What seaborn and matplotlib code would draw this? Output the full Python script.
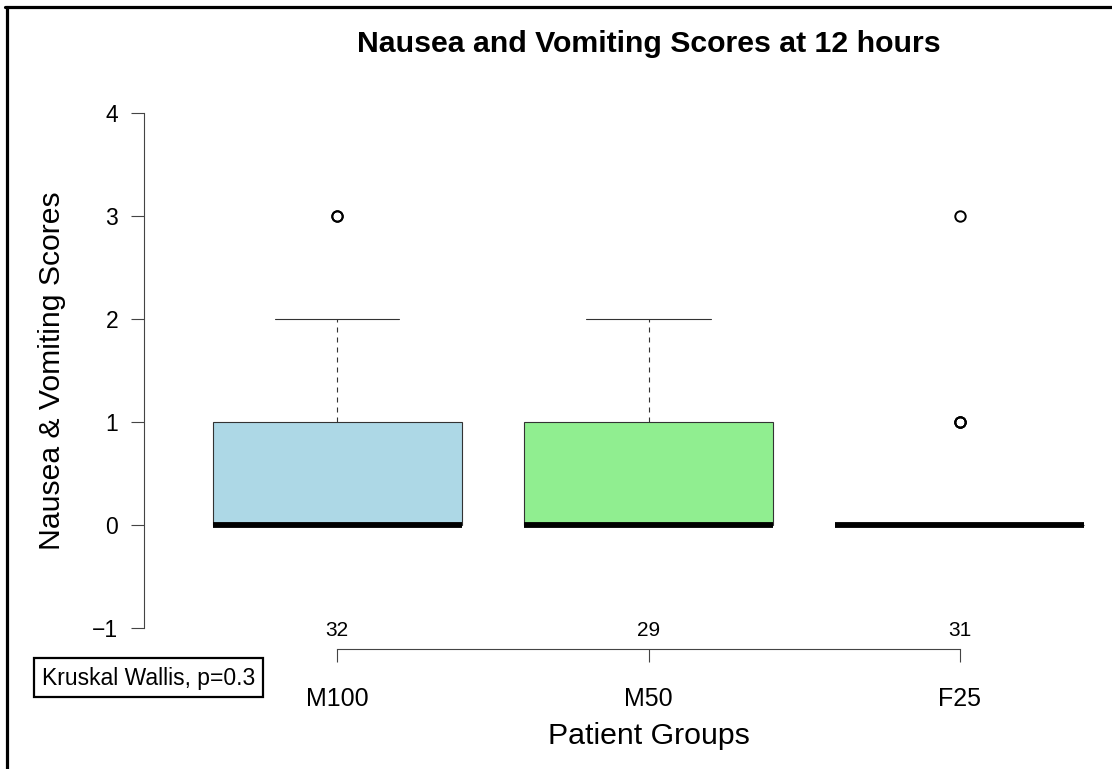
import numpy as np
import pandas as pd
import matplotlib
matplotlib.use("Agg")
import matplotlib.pyplot as plt
from matplotlib.lines import Line2D
from matplotlib.patches import Rectangle
import seaborn as sns

# Scores 0-3 and how many patients in each group reported each score
scores = [0, 1, 2, 3]
groups = ["M100", "M50", "F25"]
m100_counts = [17, 9, 4, 2]
m50_counts = [15, 10, 4, 0]
f25_counts = [27, 3, 0, 1]
box_colors = ["lightblue", "lightgreen", "pink"]
y_ticks = [-1, 0, 1, 2, 3, 4]
test_label = "Kruskal Wallis, p=0.3"

group_counts = {"M100": m100_counts, "M50": m50_counts, "F25": f25_counts}
df = pd.DataFrame({
    "group": np.concatenate([[g] * sum(c) for g, c in group_counts.items()]),
    "score": np.concatenate([np.repeat(scores, c) for c in group_counts.values()]),
})

sns.set_style("white")
plt.rcParams["font.family"] = ["Liberation Sans", "DejaVu Sans"]
plt.rcParams["text.color"] = "black"
plt.rcParams["xtick.labelcolor"] = "black"
plt.rcParams["ytick.labelcolor"] = "black"

W, H = 1112, 769
fig = plt.figure(figsize=(W / 100, H / 100), dpi=100)
left, right, top, bottom = 144, 1153, 92.4, 648.6
ax = fig.add_axes([left / W, 1 - bottom / H, (right - left) / W, (bottom - top) / H])

edge = "#333333"
sns.boxplot(
    data=df, x="group", y="score", hue="group", order=groups, hue_order=groups,
    palette=box_colors, saturation=1, width=0.8, legend=False, linecolor=edge,
    linewidth=0.8, whis=1.5, fliersize=7.5, ax=ax,
    medianprops={"color": "black", "linewidth": 4.2, "solid_capstyle": "butt"},
    whiskerprops={"linestyle": (0, (4.5, 4.5))},
    flierprops={"marker": "o", "markerfacecolor": "none",
                "markeredgecolor": "black", "markeredgewidth": 1.4},
)

ax.set_xlim(-0.62, 2.62)
ax.set_ylim(-1.2, 4.2)
ax.set_yticks(y_ticks)
ax.set_xlabel("")
ax.set_ylabel("")
for s in ("top", "right"):
    ax.spines[s].set_visible(False)
ax.spines["left"].set_bounds(-1, 4)
ax.spines["bottom"].set_bounds(0, len(groups) - 1)
for s in ("left", "bottom"):
    ax.spines[s].set_color("#444444")
    ax.spines[s].set_linewidth(0.8)
ax.tick_params(axis="y", length=9.5, width=0.8, color="#444444", pad=9,
               labelsize=16.5, labelcolor="black", direction="out", left=True)
ax.tick_params(axis="x", length=9.5, width=0.8, color="#444444", pad=18.5,
               labelsize=18, labelcolor="black", direction="out", bottom=True)

# group sizes above the axis
for i, g in enumerate(groups):
    n = int(sum(group_counts[g]))
    ax.text(i, -1.02, str(n), ha="center", va="center", fontsize=15,
            color="black")

fig.text(648.5 / W, 1 - 52 / H, "Nausea and Vomiting Scores at 12 hours",
         ha="center", va="baseline", fontsize=21.8, fontweight="bold")
fig.text(648.5 / W, 1 - 736 / H, "Patient Groups", ha="center", va="center",
         fontsize=21.8)
fig.text(52 / W, 1 - 370.5 / H, "Nausea & Vomiting Scores", ha="center",
         va="center", rotation=90, fontsize=21.7)

# test result box
fig.patches.append(Rectangle((34 / W, 1 - 697 / H), (263 - 34) / W, (697 - 658) / H,
                             transform=fig.transFigure, fill=False,
                             edgecolor="black", linewidth=1.6))
fig.text(148.5 / W, 1 - 678 / H, test_label, ha="center", va="center",
         fontsize=16.5)

# frame on the top and left edges
fig.lines.append(Line2D([6.5 / W, 6.5 / W], [0, 1 - 6.5 / H],
                        transform=fig.transFigure, color="black", linewidth=2.3))
fig.lines.append(Line2D([5.4 / W, 1], [1 - 6.5 / H, 1 - 6.5 / H],
                        transform=fig.transFigure, color="black", linewidth=2.3))

fig.savefig("out.png", dpi=100)
